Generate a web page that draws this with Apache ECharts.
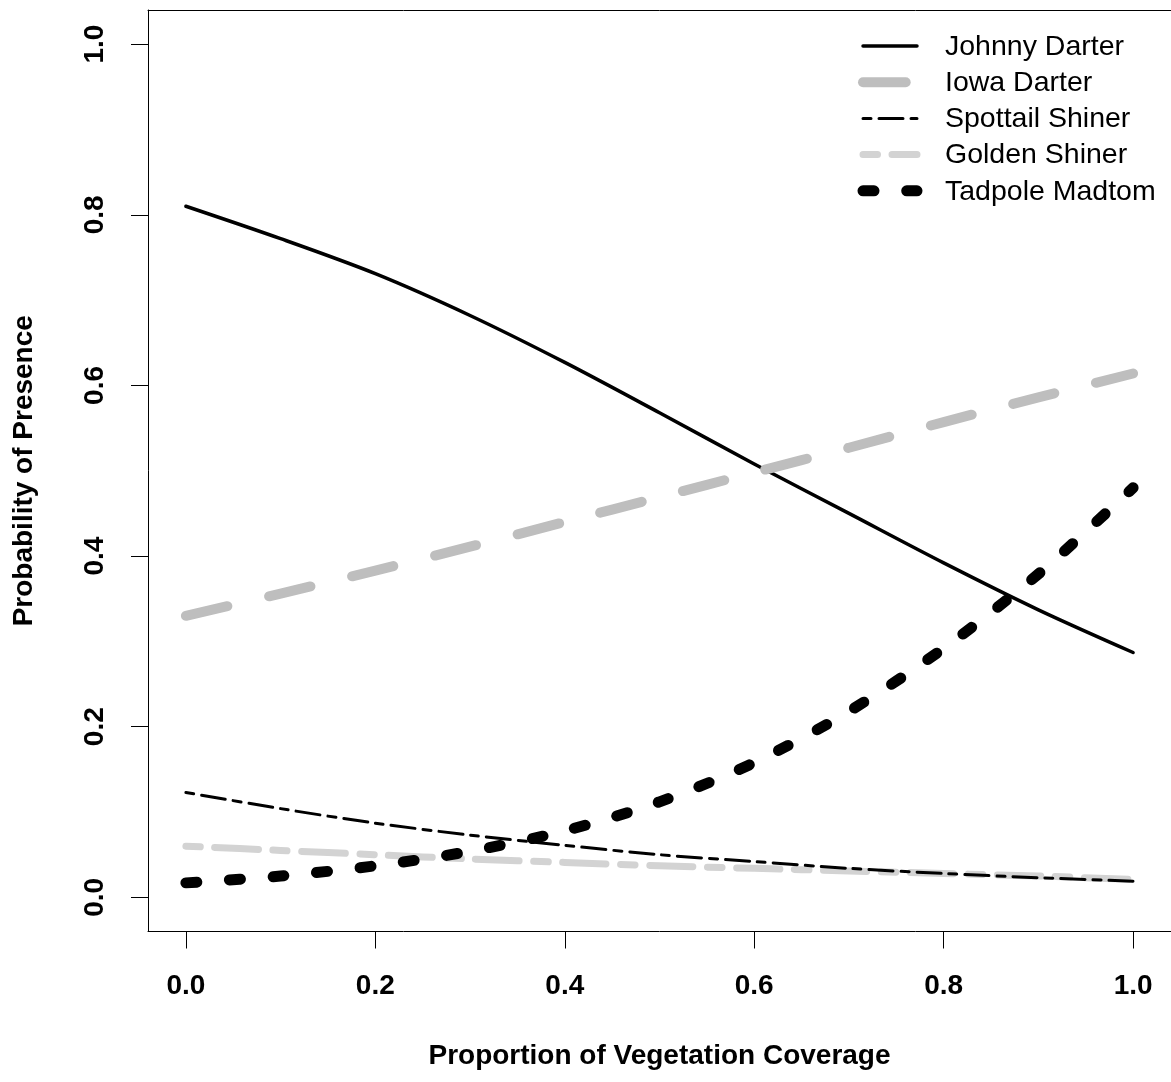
<!DOCTYPE html>
<html>
<head>
<meta charset="utf-8">
<script src="https://cdn.jsdelivr.net/npm/echarts@6/dist/echarts.min.js"></script>
<style>
  html, body { margin: 0; padding: 0; background: #ffffff; }
  #chart { width: 1171px; height: 1082px; }
</style>
</head>
<body>
<div id="chart"></div>
<script>
// Vegetation coverage values at which the fitted curves are evaluated
const coverage = [0.0, 0.1, 0.2, 0.3, 0.4, 0.5, 0.6, 0.7, 0.8, 0.9, 1.0];

// Predicted probability of presence for each species
const johnnyDarter   = [0.810, 0.772, 0.731, 0.682, 0.627, 0.568, 0.508, 0.450, 0.392, 0.337, 0.287];
const iowaDarter     = [0.330, 0.356, 0.383, 0.411, 0.440, 0.469, 0.498, 0.527, 0.557, 0.586, 0.614];
const spottailShiner = [0.123, 0.104, 0.087, 0.073, 0.061, 0.050, 0.042, 0.034, 0.028, 0.023, 0.019];
const goldenShiner   = [0.060, 0.055, 0.050, 0.045, 0.041, 0.037, 0.034, 0.031, 0.028, 0.025, 0.021];
const tadpoleMadtom  = [0.017, 0.025, 0.037, 0.054, 0.078, 0.112, 0.158, 0.218, 0.292, 0.379, 0.480];

// Legend order
const speciesNames = ['Johnny Darter', 'Iowa Darter', 'Spottail Shiner', 'Golden Shiner', 'Tadpole Madtom'];

// Tick positions and axis titles
const xTickValues = [0.0, 0.2, 0.4, 0.6, 0.8, 1.0];
const yTickValues = [0.0, 0.2, 0.4, 0.6, 0.8, 1.0];
const xTitle = 'Proportion of Vegetation Coverage';
const yTitle = 'Probability of Presence';

const valuesByName = {
  'Johnny Darter': johnnyDarter,
  'Iowa Darter': iowaDarter,
  'Spottail Shiner': spottailShiner,
  'Golden Shiner': goldenShiner,
  'Tadpole Madtom': tadpoleMadtom
};

// Line appearance per species (R-style lty patterns scaled by line width)
const lineLook = {
  'Johnny Darter':   { color: '#000000', width: 3.5, dash: null },
  'Iowa Darter':     { color: '#bebebe', width: 10,  dash: [42.7, 42.7] },
  'Spottail Shiner': { color: '#000000', width: 3,   dash: [8, 8, 24, 8] },
  'Golden Shiner':   { color: '#d3d3d3', width: 7,   dash: [14.5, 14.5, 43.5, 14.5] },
  'Tadpole Madtom':  { color: '#000000', width: 11,  dash: [11, 32.7] }
};

// Paint order of the curves
const drawOrder = ['Johnny Darter', 'Iowa Darter', 'Golden Shiner', 'Spottail Shiner', 'Tadpole Madtom'];

const FONT = '"Liberation Sans", Arial, Helvetica, sans-serif';
const AX_MIN = -0.04, AX_MAX = 1.04;

const series = drawOrder.map(function (name) {
  const look = lineLook[name];
  const vals = valuesByName[name];
  return {
    name: name,
    type: 'line',
    data: coverage.map(function (x, i) { return [x, vals[i]]; }),
    showSymbol: false,
    symbol: 'none',
    smooth: 0.3,
    silent: true,
    lineStyle: {
      color: look.color,
      width: look.width,
      type: look.dash ? look.dash : 'solid',
      cap: 'round',
      join: 'round'
    }
  };
});

// Legend drawn as short line samples with labels, top right of the panel
const legendX1 = 863, legendX2 = 917, legendTextX = 945, legendTop = 46, legendStep = 36.2;
const legendGraphics = [];
speciesNames.forEach(function (name, i) {
  const look = lineLook[name];
  const y = legendTop + legendStep * i;
  legendGraphics.push({
    type: 'line',
    silent: true,
    shape: { x1: legendX1, y1: y, x2: legendX2, y2: y },
    style: {
      stroke: look.color,
      lineWidth: look.width,
      lineDash: look.dash,
      lineCap: 'round'
    }
  });
  legendGraphics.push({
    type: 'text',
    silent: true,
    x: legendTextX,
    y: y + 1,
    style: {
      text: name,
      fill: '#000000',
      font: 'normal 28.5px ' + FONT,
      textAlign: 'left',
      textVerticalAlign: 'middle',
      verticalAlign: 'middle'
    }
  });
});

const tickLabelStyle = {
  fontSize: 28,
  fontWeight: 'bold',
  fontFamily: FONT,
  color: '#000000'
};
const titleStyle = {
  fontSize: 28,
  fontWeight: 'bold',
  fontFamily: FONT,
  color: '#000000'
};
const frameLine = { show: true, onZero: false, lineStyle: { color: '#000000', width: 1 } };
const fmt = function (v) { return Number(v).toFixed(1); };

const option = {
  animation: false,
  backgroundColor: '#ffffff',
  grid: { left: 148, top: 10, width: 1030, height: 921.5, containLabel: false },
  xAxis: [
    {
      type: 'value',
      position: 'bottom',
      min: AX_MIN,
      max: AX_MAX,
      axisLine: frameLine,
      axisTick: { show: true, customValues: xTickValues, length: 17, inside: false,
                  lineStyle: { color: '#000000', width: 1 } },
      axisLabel: Object.assign({ customValues: xTickValues, formatter: fmt, margin: 41 }, tickLabelStyle),
      splitLine: { show: false },
      name: xTitle,
      nameLocation: 'middle',
      nameGap: 111,
      nameTextStyle: titleStyle
    },
    {
      type: 'value',
      position: 'top',
      min: AX_MIN,
      max: AX_MAX,
      axisLine: frameLine,
      axisTick: { show: false },
      axisLabel: { show: false },
      splitLine: { show: false }
    }
  ],
  yAxis: [
    {
      type: 'value',
      position: 'left',
      min: AX_MIN,
      max: AX_MAX,
      axisLine: frameLine,
      axisTick: { show: true, customValues: yTickValues, length: 17, inside: false,
                  lineStyle: { color: '#000000', width: 1 } },
      axisLabel: Object.assign({ customValues: yTickValues, formatter: fmt, margin: 39, rotate: 90 }, tickLabelStyle),
      splitLine: { show: false },
      name: yTitle,
      nameLocation: 'middle',
      nameGap: 110,
      nameRotate: 90,
      nameTextStyle: titleStyle
    },
    {
      type: 'value',
      position: 'right',
      min: AX_MIN,
      max: AX_MAX,
      axisLine: frameLine,
      axisTick: { show: false },
      axisLabel: { show: false },
      splitLine: { show: false }
    }
  ],
  series: series,
  graphic: legendGraphics
};

const chart = echarts.init(document.getElementById('chart'), null, { renderer: 'canvas' });
chart.setOption(option);
</script>
</body>
</html>
